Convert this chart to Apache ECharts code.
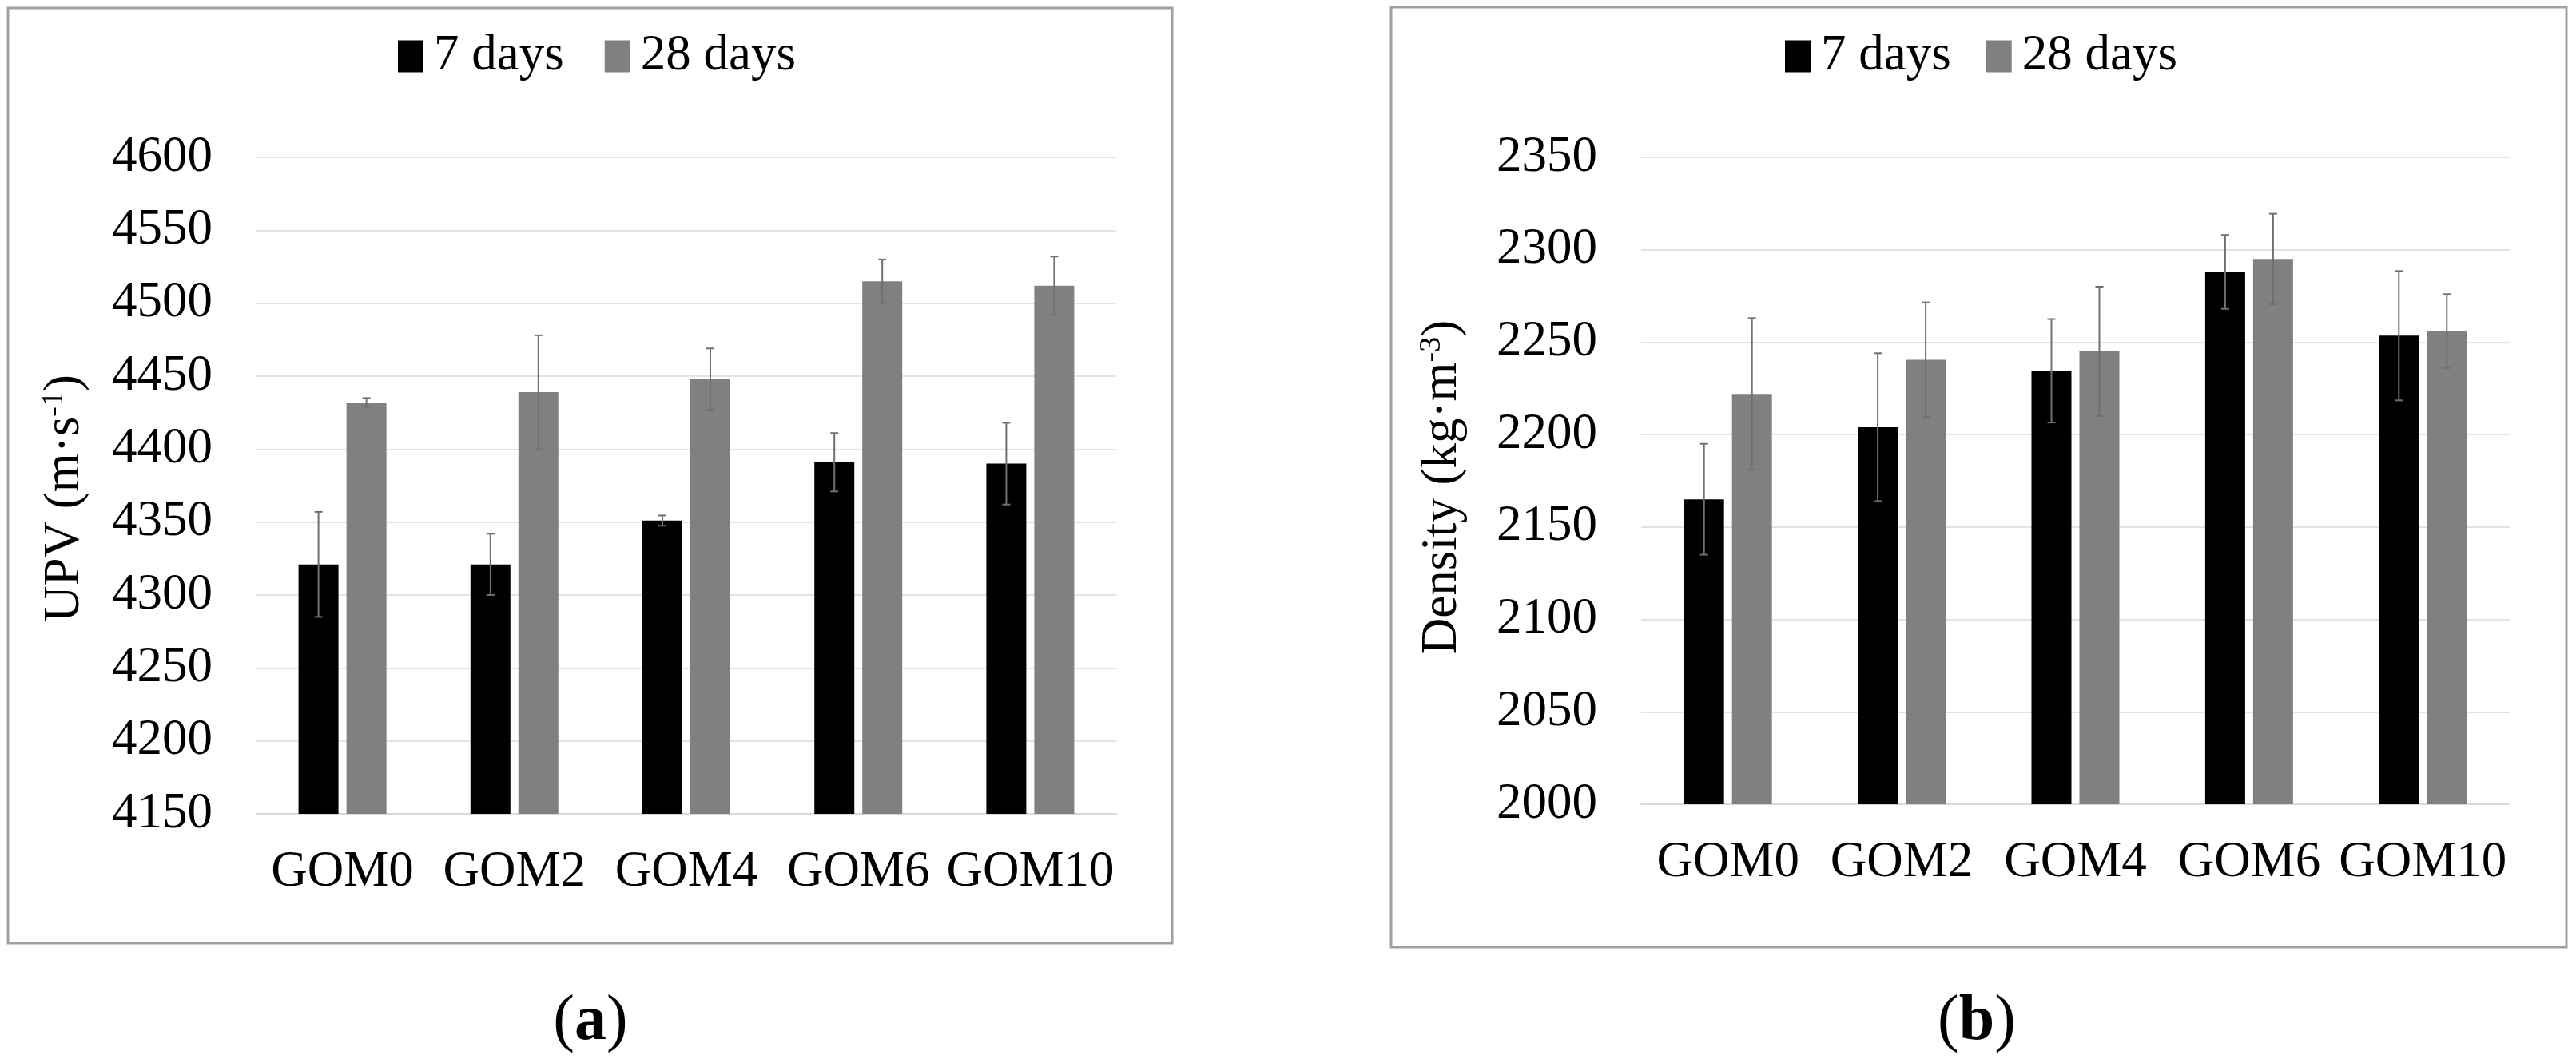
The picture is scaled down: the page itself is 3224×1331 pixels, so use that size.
<!DOCTYPE html>
<html>
<head>
<meta charset="utf-8">
<script src="https://cdn.jsdelivr.net/npm/echarts@6/dist/echarts.min.js"></script>
<style>
html,body{margin:0;padding:0;background:#fff;}
#chart{width:3224px;height:1331px;}
</style>
</head>
<body>
<div id="chart"></div>
<script>
// ---- data ----
const categories = ['GOM0', 'GOM2', 'GOM4', 'GOM6', 'GOM10'];
const seriesNames = ['7 days', '28 days'];
const upv7 = [4321, 4321, 4351, 4391, 4390];
const upv7Err = [36, 21, 3.5, 20, 28];
const upv28 = [4432, 4439, 4448, 4515, 4512];
const upv28Err = [3, 39, 21, 15, 20];
const den7 = [2165, 2204, 2234.5, 2288, 2253.5];
const den7Err = [30, 40, 28, 20, 35];
const den28 = [2222, 2240.5, 2245, 2295, 2256];
const den28Err = [41, 31, 35, 24.5, 20];
const upvAxis = [4150, 4600, 50];   // min, max, step
const denAxis = [2000, 2350, 50];
const panelLabels = ['a', 'b'];

// ---- styling ----
const FONT = '"Liberation Serif", "Times New Roman", serif';
const BLACK = '#000000';
const GRAY = '#808080';
const ERR = '#707070';
const BAR_W = 50;
const BAR_GAP = '20%';
const OFFSET = 30;

function errRender(offset) {
  return function (params, api) {
    const xi = api.value(0), v = api.value(1), e = api.value(2);
    const c = api.coord([xi, v]);
    const hi = api.coord([xi, v + e]);
    const lo = api.coord([xi, v - e]);
    const x = c[0] + offset;
    const cap = 5;
    const st = { stroke: ERR, lineWidth: 2 };
    return {
      type: 'group',
      children: [
        { type: 'line', shape: { x1: x, y1: hi[1], x2: x, y2: lo[1] }, style: st },
        { type: 'line', shape: { x1: x - cap, y1: hi[1], x2: x + cap, y2: hi[1] }, style: st },
        { type: 'line', shape: { x1: x - cap, y1: lo[1], x2: x + cap, y2: lo[1] }, style: st }
      ]
    };
  };
}
function errData(vals, errs) { return vals.map((v, i) => [i, v, errs[i]]); }

function xAxisCfg(gi) {
  return {
    type: 'category', gridIndex: gi, data: categories,
    axisTick: { show: false },
    axisLine: { lineStyle: { color: '#d9d9d9', width: 2 } },
    axisLabel: { interval: 0, fontFamily: FONT, fontSize: 63, color: '#000', margin: 42 }
  };
}
function yAxisCfg(gi, ax, name, gap, shift) {
  return {
    type: 'value', gridIndex: gi, min: ax[0], max: ax[1], interval: ax[2],
    axisLine: { show: false }, axisTick: { show: false },
    splitLine: { lineStyle: { color: '#e3e3e3', width: 2 } },
    axisLabel: { fontFamily: FONT, fontSize: 63, color: '#000', margin: 55, formatter: (v) => String(v) },
    name: name, nameLocation: 'middle', nameGap: gap, nameRotate: 90,
    nameTextStyle: {
      fontFamily: FONT, fontSize: 63, color: '#000', padding: [0, shift, 0, 0],
      rich: {
        n: { fontFamily: FONT, fontSize: 63, color: '#000' },
        sup: { fontFamily: FONT, fontSize: 38, color: '#000', padding: [0, 0, 26, 0] }
      }
    }
  };
}
function legendCfg(left, gap) {
  return {
    data: seriesNames, left: left, top: 34, icon: 'rect',
    itemWidth: 32, itemHeight: 40, itemGap: gap,
    textStyle: { fontFamily: FONT, fontSize: 63, color: '#000', padding: [0, 0, 0, 8] }
  };
}

const chart = echarts.init(document.getElementById('chart'), null, { renderer: 'canvas' });
chart.setOption({
  backgroundColor: '#ffffff',
  animation: false,
  legend: [legendCfg(493, 51), legendCfg(2229, 44)],
  grid: [
    { left: 321, right: 1827, top: 197, bottom: 312 },
    { left: 2054, right: 83, top: 197, bottom: 324 }
  ],
  xAxis: [xAxisCfg(0), xAxisCfg(1)],
  yAxis: [
    yAxisCfg(0, upvAxis, '{n|UPV (m·s}{sup|-1}{n|)}', 208, 32),
    yAxisCfg(1, denAxis, '{n|Density (kg·m}{sup|-3}{n|)}', 217, 16)
  ],
  series: [
    { name: seriesNames[0], type: 'bar', xAxisIndex: 0, yAxisIndex: 0, data: upv7, barWidth: BAR_W, barGap: BAR_GAP, itemStyle: { color: BLACK } },
    { name: seriesNames[1], type: 'bar', xAxisIndex: 0, yAxisIndex: 0, data: upv28, barWidth: BAR_W, barGap: BAR_GAP, itemStyle: { color: GRAY } },
    { name: seriesNames[0], type: 'bar', xAxisIndex: 1, yAxisIndex: 1, data: den7, barWidth: BAR_W, barGap: BAR_GAP, itemStyle: { color: BLACK } },
    { name: seriesNames[1], type: 'bar', xAxisIndex: 1, yAxisIndex: 1, data: den28, barWidth: BAR_W, barGap: BAR_GAP, itemStyle: { color: GRAY } },
    { name: 'e1', type: 'custom', xAxisIndex: 0, yAxisIndex: 0, renderItem: errRender(-OFFSET), data: errData(upv7, upv7Err), encode: { x: 0, y: 1 }, z: 5 },
    { name: 'e2', type: 'custom', xAxisIndex: 0, yAxisIndex: 0, renderItem: errRender(OFFSET), data: errData(upv28, upv28Err), encode: { x: 0, y: 1 }, z: 5 },
    { name: 'e3', type: 'custom', xAxisIndex: 1, yAxisIndex: 1, renderItem: errRender(-OFFSET), data: errData(den7, den7Err), encode: { x: 0, y: 1 }, z: 5 },
    { name: 'e4', type: 'custom', xAxisIndex: 1, yAxisIndex: 1, renderItem: errRender(OFFSET), data: errData(den28, den28Err), encode: { x: 0, y: 1 }, z: 5 }
  ],
  graphic: [
    { type: 'rect', shape: { x: 10, y: 10, width: 1457, height: 1171 }, style: { fill: 'none', stroke: '#a0a0a0', lineWidth: 3 }, z: 0 },
    { type: 'rect', shape: { x: 1741, y: 9, width: 1471, height: 1177 }, style: { fill: 'none', stroke: '#a0a0a0', lineWidth: 3 }, z: 0 },
    { type: 'text', x: 739, y: 1280, style: { text: '(' + '{b|' + panelLabels[0] + '})', rich: { b: { fontWeight: 'bold', fontFamily: FONT, fontSize: 80, fill: '#000' } }, font: '80px ' + FONT, fill: '#000', align: 'center', verticalAlign: 'middle' } },
    { type: 'text', x: 2474, y: 1280, style: { text: '(' + '{b|' + panelLabels[1] + '})', rich: { b: { fontWeight: 'bold', fontFamily: FONT, fontSize: 80, fill: '#000' } }, font: '80px ' + FONT, fill: '#000', align: 'center', verticalAlign: 'middle' } }
  ]
});
</script>
</body>
</html>
